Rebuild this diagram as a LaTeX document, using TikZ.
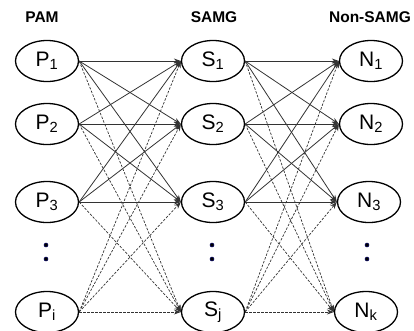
\documentclass[tikz,border=0pt]{standalone}
\usepackage{fontspec}
\setmainfont{Liberation Sans}
\usetikzlibrary{arrows.meta,shapes.geometric}
\begin{document}
\begin{tikzpicture}[x=1pt,y=-1pt,
  nd/.style={draw, line width=1.3pt, ellipse, minimum width=63pt, minimum height=41pt, inner sep=0pt, font=\fontsize{21}{22}\selectfont},
  hd/.style={font=\fontsize{15.5}{16}\selectfont\bfseries},
  sl/.style={-{Stealth[length=7pt,width=5pt]}, line width=0.8pt, draw=black!80},
  dl/.style={-{Stealth[length=7pt,width=5pt]}, line width=0.7pt, dashed, dash pattern=on 2.5pt off 1.5pt, draw=black!80},
  dotc/.style={circle, fill=black, draw=blue!40!black, line width=0.5pt, inner sep=0pt, minimum size=4pt}]
\useasboundingbox (0,0) rectangle (414,330);
\node[hd] (hp) at (42,17) {PAM};
\node[hd] (hs) at (214,17) {SAMG};
\node[hd] (hn) at (370,17) {Non-SAMG};
\node[nd] (P1) at (47,61) {P$_{\mathrm{1}}$};
\node[nd] (P2) at (47,124) {P$_{\mathrm{2}}$};
\node[nd] (P3) at (47,202) {P$_{\mathrm{3}}$};
\node[nd] (Pi) at (47,312) {P$_{\mathrm{i}}$};
\node[nd] (S1) at (213,61) {S$_{\mathrm{1}}$};
\node[nd] (S2) at (213,124) {S$_{\mathrm{2}}$};
\node[nd] (S3) at (213,202) {S$_{\mathrm{3}}$};
\node[nd] (Sj) at (213,312) {S$_{\mathrm{j}}$};
\node[nd] (N1) at (371,61) {N$_{\mathrm{1}}$};
\node[nd] (N2) at (371,124) {N$_{\mathrm{2}}$};
\node[nd] (N3) at (369,202) {N$_{\mathrm{3}}$};
\node[nd] (Nk) at (366,312) {N$_{\mathrm{k}}$};
\foreach \c/\x in {pd/46,sd/212,kd/367}{
  \node[dotc] (\c1) at (\x,245) {};
  \node[dotc] (\c2) at (\x,259) {};
}
\foreach \a in {P1,P2,P3}{
  \foreach \b in {S1,S2,S3}{\draw[sl] (\a.east) -- (\b.west);}
  \draw[dl] (\a.east) -- (Sj.west);
}
\foreach \b in {S1,S2,S3,Sj}{\draw[dl] (Pi.east) -- (\b.west);}
\foreach \a in {S1,S2,S3}{
  \foreach \b in {N1,N2,N3}{\draw[sl] (\a.east) -- (\b.west);}
  \draw[dl] (\a.east) -- (Nk.west);
}
\foreach \b in {N1,N2,N3,Nk}{\draw[dl] (Sj.east) -- (\b.west);}
\end{tikzpicture}
\end{document}
